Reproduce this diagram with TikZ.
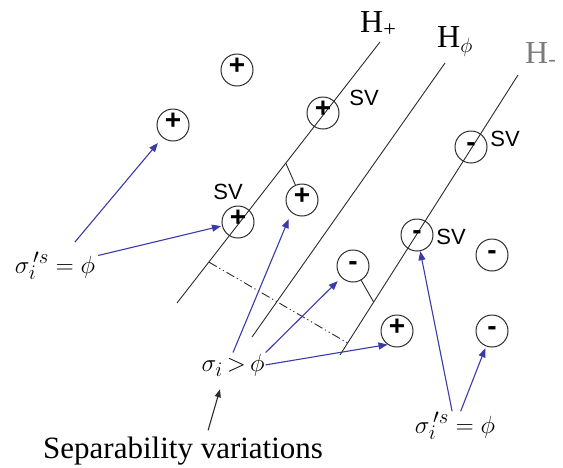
\documentclass[tikz,border=0pt]{standalone}
\usepackage{fontspec}
\setmainfont{Liberation Serif}
\setsansfont{Liberation Sans}
\usetikzlibrary{arrows.meta,calc}
\definecolor{ink}{HTML}{2B2B2B}
\definecolor{pointblue}{HTML}{3A3AA8}
\definecolor{fadedink}{HTML}{7A7A7A}

\begin{document}
\begin{tikzpicture}[
  x=1pt,y=-1pt,
  sample/.style={circle, draw=ink, line width=1pt, minimum size=32pt, inner sep=0pt,
    text height=0.8em, text depth=0pt,
    font=\sffamily\bfseries\fontsize{28}{28}\selectfont},
  plane/.style={draw=ink, line width=0.9pt},
  margin/.style={plane, dash pattern=on 9pt off 3pt on 1.2pt off 3pt on 1.2pt off 3pt},
  svlabel/.style={font=\sffamily\fontsize{22}{22}\selectfont, inner sep=0pt},
  hlabel/.style={font=\fontsize{32}{32}\selectfont, anchor=base west, inner sep=0pt},
  sigma/.style={font=\fontsize{30}{30}\selectfont, anchor=base, inner sep=1pt},
  pointer/.style={-{Triangle[length=9pt,width=7pt]}, draw=pointblue, line width=1.1pt},
  note/.style={-{Triangle[length=8pt,width=6pt]}, draw=ink, line width=1.1pt}
]
\useasboundingbox (0,0) rectangle (563,467);

% Hyperplanes
\draw[plane] (177,303) -- (380,42) coordinate[pos=0.157] (gapA) coordinate[pos=0.536] (footP);
\draw[plane] (252,337) -- (445,63);
\draw[plane] (340,355) -- (518,75) coordinate[pos=0.043] (gapB) coordinate[pos=0.189] (footN);
\draw[margin] (gapA) -- (gapB);

\node[hlabel] (hplus) at (360,32) {H\textsubscript{+}};
\node[hlabel] (hphi) at (437,47) {H$_{\phi}$};
\node[hlabel, text=fadedink] (hminus) at (525,63) {H\textsubscript{-}};

% Positive samples
\node[sample] (p1) at (237,70) {+};
\node[sample] (p2) at (173,125) {+};
\node[sample] (p3) at (323,113) {+};
\node[sample] (p4) at (238,222) {+};
\node[sample] (p5) at (302,200) {+};
\node[sample] (p6) at (397,331) {+};

% Negative samples
\node[sample] (n1) at (471,147) {-};
\node[sample] (n2) at (417,235) {-};
\node[sample] (n3) at (353,266) {-};
\node[sample] (n4) at (492,255) {-};
\node[sample] (n5) at (492,331) {-};

\draw[plane] (footP) -- (p5);
\draw[plane] (n3) -- (footN);

% Support vectors
\node[svlabel] (sv1) at (364,98) {SV};
\node[svlabel] (sv2) at (228,192) {SV};
\node[svlabel] (sv3) at (505,139) {SV};
\node[svlabel] (sv4) at (451,237) {SV};

% Slack labels
\node[sigma] (sigL) at (55,273) {$\sigma_i^{\,\prime s}=\phi$};
\node[sigma] (sigM) at (233,371) {$\sigma_i\,{>}\,\phi$};
\node[sigma] (sigR) at (455,433) {$\sigma_i^{\,\prime s}=\phi$};
\node[font=\fontsize{31}{31}\selectfont, anchor=base west, inner sep=0pt] (sep) at (43,458) {Separability variations};

\draw[pointer, shorten <=12pt, shorten >=7pt] (sigL) -- (p2);
\draw[pointer, shorten <=2pt, shorten >=1pt] (sigL) -- (p4);
\draw[pointer, shorten >=7pt] (sigM.north) -- (p5.230);
\draw[pointer, shorten >=5pt] (sigM.north east) -- (n3);
\draw[pointer] (sigM.east) -- (p6.235);
\draw[pointer] (sigR) -- (n2);
\draw[pointer, shorten >=2pt] (sigR) -- (n5);
\draw[note] ([shift={(25,-6)}]sep.north) -- ([shift={(-13,12)}]sigM.south);

\end{tikzpicture}
\end{document}
